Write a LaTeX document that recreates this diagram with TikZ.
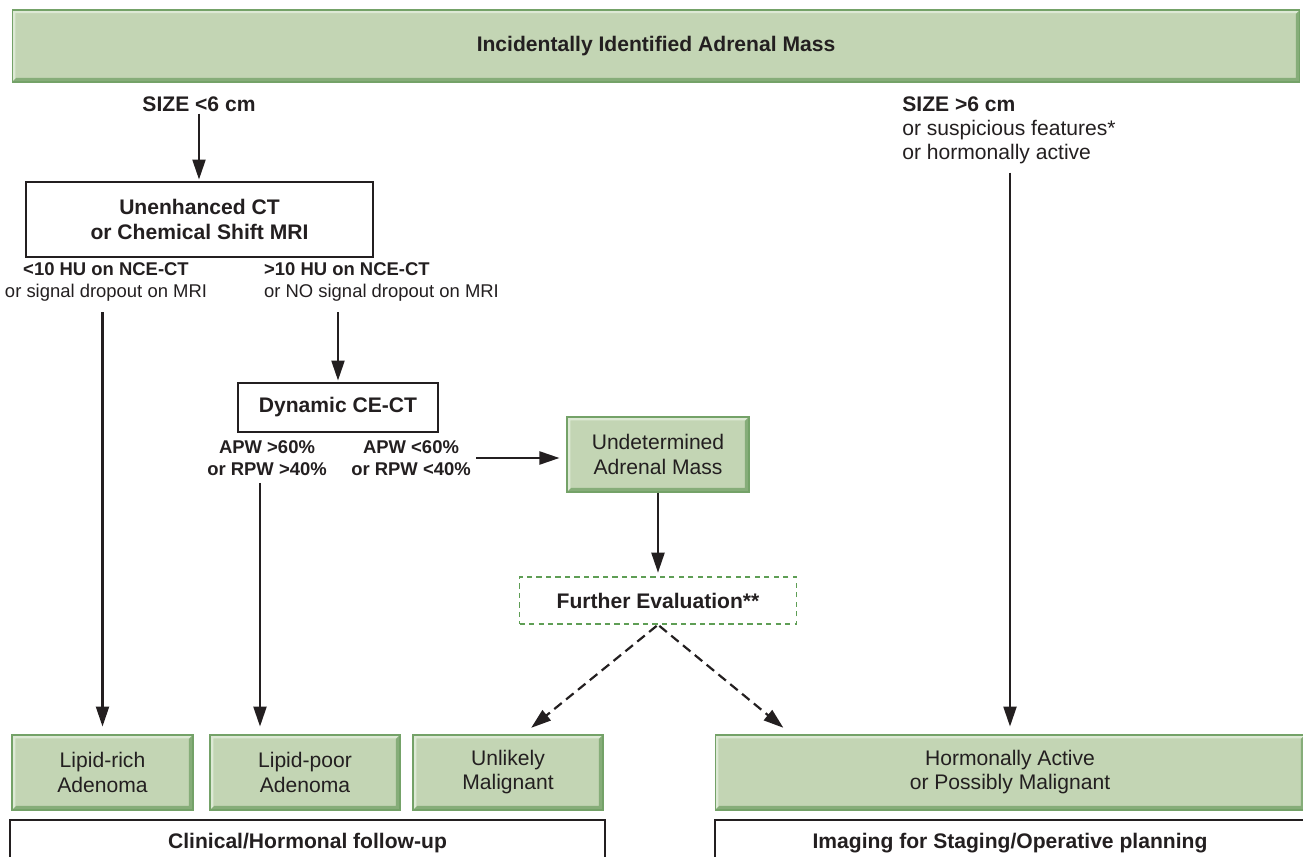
\documentclass[tikz,border=0pt]{standalone}
\usepackage{fontspec}
\setmainfont{Liberation Sans}
\usetikzlibrary{positioning, arrows.meta, calc}

\definecolor{boxfill}{HTML}{C3D5B4}
\definecolor{boxedge}{HTML}{74A268}
\definecolor{boxlight}{HTML}{DDE9D5}
\definecolor{boxdark}{HTML}{86AD79}
\definecolor{evalgreen}{HTML}{5E9E55}
\definecolor{inkgray}{HTML}{231F20}

\newcommand{\boxfont}{\fontsize{12}{13.7}\selectfont}
\newcommand{\condfont}{\fontsize{10.5}{12.5}\selectfont}

\tikzset{
  greenbox/.style={fill=boxfill, draw=boxedge, line width=0.6pt, align=center,
    inner sep=0pt, minimum height=1.5cm, font=\boxfont,
    path picture={
      \fill[boxlight] (path picture bounding box.north west) -- (path picture bounding box.north east)
        -- ++(-0.065cm,-0.065cm) -| ($(path picture bounding box.south west)+(0.065cm,0.065cm)$)
        -- (path picture bounding box.south west) -- cycle;
      \fill[boxdark] (path picture bounding box.south west) -- (path picture bounding box.south east)
        -- (path picture bounding box.north east) -- ++(-0.08cm,-0.08cm)
        |- ($(path picture bounding box.south west)+(0.08cm,0.08cm)$) -- cycle;
    }},
  whitebox/.style={draw=inkgray, fill=white, line width=0.8pt, align=center,
    inner sep=0pt, font=\boxfont\bfseries},
  evalbox/.style={draw=evalgreen, line width=0.9pt, dash pattern=on 3pt off 2.4pt,
    inner sep=0pt, font=\boxfont\bfseries},
  cond/.style={align=center, inner sep=1pt, font=\condfont},
  arr/.style={-{Triangle[length=0.4cm,width=0.26cm]}, line width=1.25pt, draw=inkgray},
  dasharr/.style={arr, dash pattern=on 5.5pt off 3.2pt}
}

\begin{document}
\begin{tikzpicture}[x=0.02cm, y=-0.02cm, text=inkgray]

\useasboundingbox (0,0) rectangle (1303,857);
\clip (0,0) rectangle (1303,857);

% Top banner
\node[greenbox, font=\boxfont\bfseries, minimum width=25.76cm, minimum height=1.44cm] (mass) at (656,46) {Incidentally Identified Adrenal Mass};

% Left branch: small masses
\node[inner sep=1pt, font=\boxfont\bfseries] (small) at (199,104) {SIZE <6 cm};
\node[whitebox, minimum width=6.94cm, minimum height=1.5cm] (unenh) at (199.5,219.5) {Unenhanced CT\\or Chemical Shift MRI};
\node[cond] (lowhu) at (106,282) {\textbf{<10 HU on NCE-CT}\\or signal dropout on MRI};
\node[cond, anchor=west, align=left] (highhu) at (262,282) {\textbf{>10 HU on NCE-CT}\\or NO signal dropout on MRI};

% Washout study
\node[whitebox, minimum width=4cm, minimum height=0.98cm] (dyn) at (338,407.5) {Dynamic CE-CT};
\node[cond, font=\condfont\bfseries] (apwhi) at (267,458) {APW >60\%\\or RPW >40\%};
\node[cond, font=\condfont\bfseries] (apwlo) at (411,458) {APW <60\%\\or RPW <40\%};
\node[greenbox, minimum width=3.64cm] (undet) at (658,454.5) {Undetermined\\Adrenal Mass};
\node[evalbox, minimum width=5.54cm, minimum height=0.94cm] (further) at (658,600.5) {Further Evaluation**};

% Right branch: large or suspicious masses
\node[anchor=west, align=left, inner sep=0pt, font=\boxfont] (large) at (902,130) {\textbf{SIZE >6 cm}\\or suspicious features*\\or hormonally active};

% Outcomes
\node[greenbox, minimum width=3.62cm] (lrich) at (102.5,772.5) {Lipid-rich\\Adenoma};
\node[greenbox, minimum width=3.8cm] (lpoor) at (305,772.5) {Lipid-poor\\Adenoma};
\node[greenbox, minimum width=3.8cm] (unlik) at (508,772.5) {Unlikely\\Malignant};
\node[greenbox, minimum width=11.8cm] (hormo) at (1010,772.5) {Hormonally Active\\or Possibly Malignant};

% Management
\node[whitebox, minimum width=11.9cm, minimum height=0.92cm] (clin) at (307.5,843) {Clinical/Hormonal follow-up};
\node[whitebox, minimum width=11.8cm, minimum height=0.92cm] (imag) at (1010,843) {Imaging for Staging/Operative planning};

% Connections
\draw[arr, shorten >=1pt] (small.south) -- (small.south |- unenh.north);
\draw[arr, shorten <=5pt, shorten >=4.5pt] (lowhu.south -| lrich.north) -- (lrich.north);
\draw[arr, shorten <=5pt, shorten >=1pt] (highhu.south -| dyn.north) -- (dyn.north);
\draw[arr, shorten <=3pt, shorten >=4.5pt] ([xshift=-0.14cm]apwhi.south) -- ([xshift=-0.14cm]apwhi.south |- lpoor.north);
\draw[arr, shorten <=2pt, shorten >=4pt] (apwlo.east) -- (apwlo.east -| undet.west);
\draw[arr, shorten >=2pt] (undet) -- (further);
\draw[dasharr, shorten <=1pt, shorten >=6pt] (further.south) -- ([xshift=0.3cm]unlik.north);
\draw[dasharr, shorten <=1pt, shorten >=6pt] (further.south) -- ([xshift=1.54cm]hormo.north west);
\draw[arr, shorten <=5pt, shorten >=4.5pt] (large.south -| hormo.north) -- (hormo.north);

\end{tikzpicture}
\end{document}
